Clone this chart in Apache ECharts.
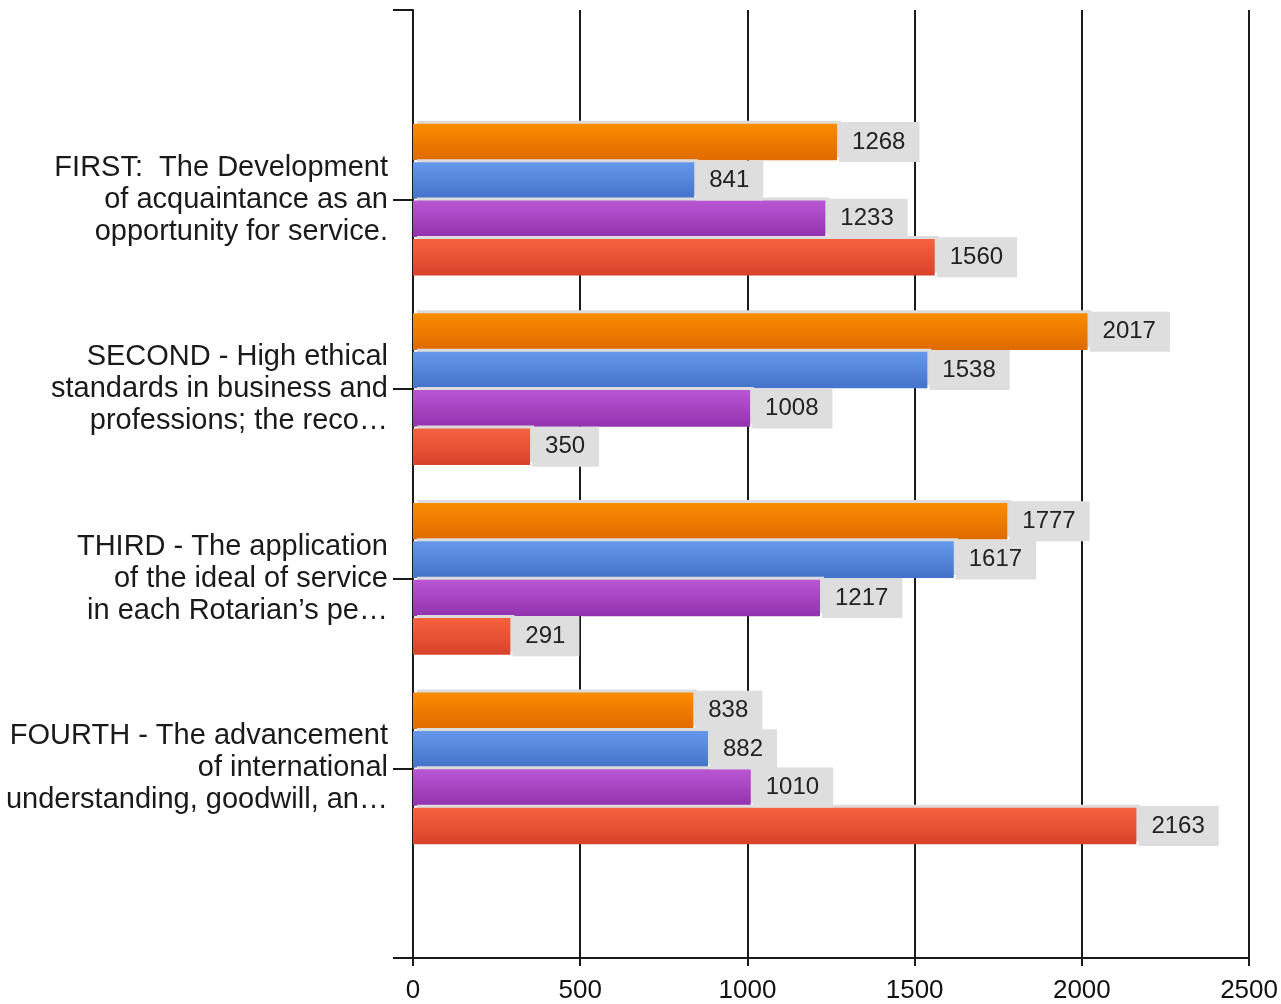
<!DOCTYPE html>
<html>
<head>
<meta charset="utf-8">
<script src="https://cdn.jsdelivr.net/npm/echarts@6/dist/echarts.min.js"></script>
<style>
html,body{margin:0;padding:0;background:#fff;}
#chart{width:1281px;height:1004px;}
</style>
</head>
<body>
<div id="chart"></div>
<script>
const categories = [
  '',
  'FIRST:  The Development\nof acquaintance as an\nopportunity for service.',
  'SECOND - High ethical\nstandards in business and\nprofessions; the reco\u2026',
  'THIRD - The application\nof the ideal of service\nin each Rotarian\u2019s pe\u2026',
  'FOURTH - The advancement\nof international\nunderstanding, goodwill, an\u2026',
  ''
];
const orangeValues = [null, 1268, 2017, 1777, 838, null];
const blueValues   = [null, 841, 1538, 1617, 882, null];
const purpleValues = [null, 1233, 1008, 1217, 1010, null];
const redValues    = [null, 1560, 350, 291, 2163, null];
const xTicks = { min: 0, max: 2500, interval: 500 };

const chart = echarts.init(document.getElementById('chart'));
const font = 'Liberation Sans, Arial, sans-serif';
function grad(top, bottom) {
  return new echarts.graphic.LinearGradient(0, 0, 0, 1, [
    { offset: 0, color: top }, { offset: 1, color: bottom }
  ]);
}
function mkSeries(name, data, top, bottom) {
  return {
    name: name,
    type: 'bar',
    data: data,
    barGap: '5%',
    barCategoryGap: '20%',
    itemStyle: {
      color: grad(top, bottom),
      shadowColor: '#dcdcdc',
      shadowBlur: 0,
      shadowOffsetX: 4,
      shadowOffsetY: -3
    },
    label: {
      show: true,
      position: 'right',
      distance: 0,
      backgroundColor: '#dedede',
      padding: [9, 14, 7, 13],
      color: '#222',
      fontFamily: font,
      fontSize: 24,
      offset: [2, 0]
    },
    emphasis: { disabled: true },
    animation: false
  };
}
chart.setOption({
  animation: false,
  grid: { left: 413, right: 27, top: 10, bottom: 46, containLabel: false },
  xAxis: {
    type: 'value',
    min: xTicks.min, max: xTicks.max, interval: xTicks.interval,
    axisLine: { show: true, lineStyle: { color: '#1a1a1a', width: 2 } },
    axisTick: { show: true, length: 8, lineStyle: { color: '#1a1a1a', width: 2 } },
    splitLine: { show: true, lineStyle: { color: '#1a1a1a', width: 2 } },
    axisLabel: { color: '#111', fontSize: 26, fontFamily: font, margin: 20,
      formatter: function (v) { return String(v); } }
  },
  yAxis: {
    type: 'category',
    inverse: true,
    boundaryGap: false,
    data: categories,
    axisLine: { show: true, lineStyle: { color: '#1a1a1a', width: 2 } },
    axisTick: { show: true, length: 20, interval: 0, lineStyle: { color: '#1a1a1a', width: 2 } },
    axisLabel: { color: '#1a1a1a', fontSize: 29, lineHeight: 32, fontFamily: font, margin: 25, align: 'right', interval: 0 },
    splitLine: { show: false }
  },
  series: [
    mkSeries('A', orangeValues, '#FA8C00', '#DF6A00'),
    mkSeries('B', blueValues, '#6598EA', '#4373CA'),
    mkSeries('C', purpleValues, '#BA56D3', '#9332AE'),
    mkSeries('D', redValues, '#F6623F', '#D9422A')
  ]
});
</script>
</body>
</html>
